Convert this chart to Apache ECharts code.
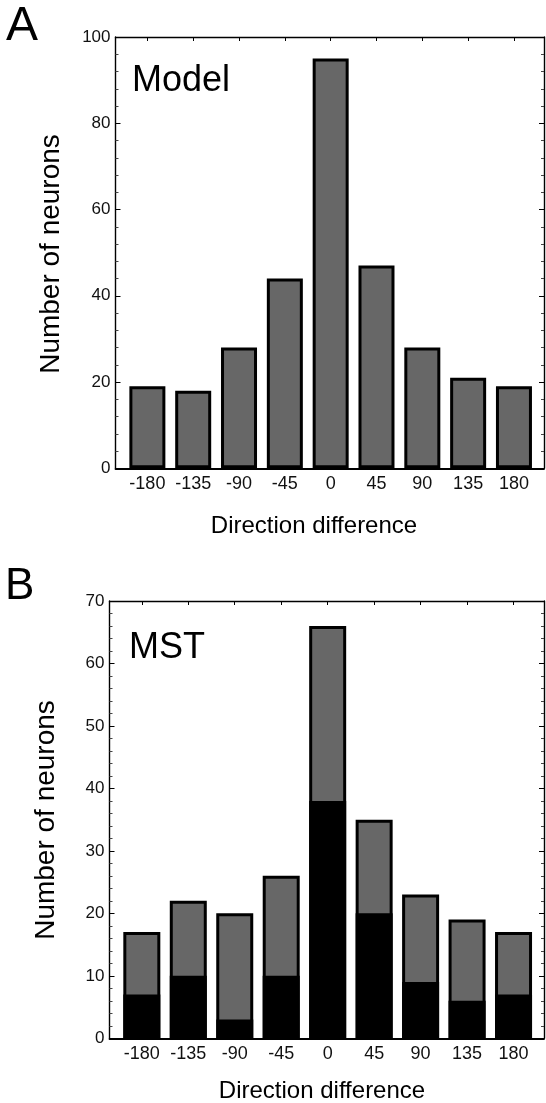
<!DOCTYPE html>
<html>
<head>
<meta charset="utf-8">
<script src="https://cdn.jsdelivr.net/npm/echarts@6/dist/echarts.min.js"></script>
<style>
html,body{margin:0;padding:0;background:#fff;}
#chart{width:546px;height:1103px;}
</style>
</head>
<body>
<div id="chart"></div>
<script>
// ---- data ----
var directions = [-180, -135, -90, -45, 0, 45, 90, 135, 180];
var modelCounts = [19, 18, 28, 44, 95, 47, 28, 21, 19];
var mstTotal = [17, 22, 20, 26, 66, 35, 23, 19, 17];
var mstBlack = [7, 10, 3, 10, 38, 20, 9, 6, 7];

var FONT = '"Liberation Sans", Arial, Helvetica, sans-serif';
var GRAY = '#676767';
var XMIN = -211.3, XMAX = 209.5;

function pairs(xs, ys) { return xs.map(function (x, i) { return [x, ys[i]]; }); }

function xAxes(gridIndex) {
  return [
    {
      type: 'value', gridIndex: gridIndex, position: 'bottom', min: XMIN, max: XMAX,
      splitLine: { show: false },
      axisLine: { show: true, onZero: false, lineStyle: { color: '#000', width: 1.8 } },
      axisTick: { show: true, inside: true, length: 4, customValues: directions, lineStyle: { color: '#000' } },
      axisLabel: { show: true, customValues: directions, margin: 7, fontSize: 18, fontFamily: FONT, color: '#111' }
    },
    {
      type: 'value', gridIndex: gridIndex, position: 'top', min: XMIN, max: XMAX,
      splitLine: { show: false },
      axisLine: { show: true, onZero: false, lineStyle: { color: '#000', width: 1.4 } },
      axisTick: { show: true, inside: true, length: 4, customValues: directions, lineStyle: { color: '#000' } },
      axisLabel: { show: false }
    }
  ];
}

function yAxes(gridIndex, max, interval) {
  return [
    {
      type: 'value', gridIndex: gridIndex, position: 'left', min: 0, max: max, interval: interval,
      splitLine: { show: false },
      axisLine: { show: true, onZero: false, lineStyle: { color: '#000', width: 1.4 } },
      axisTick: { show: true, inside: true, length: 5, lineStyle: { color: '#000' } },
      minorTick: { show: true, splitNumber: 5, length: 3, lineStyle: { color: '#444' } },
      axisLabel: { show: true, margin: 5, fontSize: 17, fontFamily: FONT, color: '#111' }
    },
    {
      type: 'value', gridIndex: gridIndex, position: 'right', min: 0, max: max, interval: interval,
      splitLine: { show: false },
      axisLine: { show: true, onZero: false, lineStyle: { color: '#000', width: 1.4 } },
      axisTick: { show: true, inside: true, length: 5, lineStyle: { color: '#000' } },
      minorTick: { show: true, splitNumber: 5, length: 3, lineStyle: { color: '#444' } },
      axisLabel: { show: false }
    }
  ];
}

function txt(text, x, y, size, extra) {
  var el = {
    type: 'text', x: x, y: y,
    style: {
      text: text, fontSize: size, fontFamily: FONT, fill: '#000',
      textAlign: 'left', textVerticalAlign: 'middle', align: 'left', verticalAlign: 'middle'
    }
  };
  if (extra) {
    for (var k in extra) {
      if (k === 'style') { for (var s in extra.style) el.style[s] = extra.style[s]; }
      else el[k] = extra[k];
    }
  }
  return el;
}
var centered = { style: { textAlign: 'center', align: 'center' } };

var chart = echarts.init(document.getElementById('chart'), null, { renderer: 'canvas' });
chart.setOption({
  animation: false,
  backgroundColor: '#fff',
  grid: [
    { left: 115.5, top: 37, width: 428.5, height: 431.3, show: false },
    { left: 109.5, top: 601, width: 434.5, height: 437.3, show: false }
  ],
  xAxis: xAxes(0).concat(xAxes(1)),
  yAxis: yAxes(0, 100, 20).concat(yAxes(1, 70, 10)),
  series: [
    {
      type: 'bar', xAxisIndex: 0, yAxisIndex: 0, barWidth: 36,
      data: pairs(directions, modelCounts),
      itemStyle: { color: GRAY, borderColor: '#000', borderWidth: 3 }
    },
    {
      type: 'bar', xAxisIndex: 2, yAxisIndex: 2, barWidth: 37, barGap: '-100%',
      data: pairs(directions, mstTotal),
      itemStyle: { color: GRAY, borderColor: '#000', borderWidth: 3 }
    },
    {
      type: 'bar', xAxisIndex: 2, yAxisIndex: 2, barWidth: 37, barGap: '-100%',
      data: pairs(directions, mstBlack),
      itemStyle: { color: '#000', borderColor: '#000', borderWidth: 3 }
    }
  ],
  graphic: [
    txt('A', 6, 27, 48),
    txt('Model', 132, 81, 36),
    txt('Number of neurons', 51, 254, 28, { rotation: Math.PI / 2, style: { textAlign: 'center', align: 'center' } }),
    txt('Direction difference', 314, 526, 24, centered),
    txt('B', 5, 587, 44),
    txt('MST', 129, 648, 36),
    txt('Number of neurons', 46, 820, 28, { rotation: Math.PI / 2, style: { textAlign: 'center', align: 'center' } }),
    txt('Direction difference', 322, 1091, 24, centered)
  ]
});
</script>
</body>
</html>
